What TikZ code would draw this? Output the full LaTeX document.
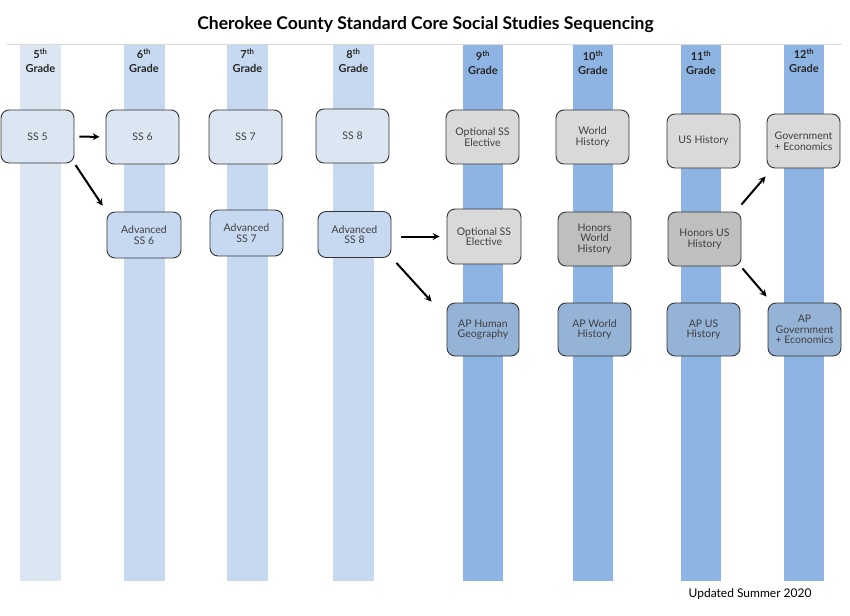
\documentclass[tikz,border=0pt]{standalone}
\usepackage{fontspec}
\setmainfont{Lato}
\usepackage{tikz}
\usetikzlibrary{shapes.geometric, arrows}
\definecolor{barpale}{HTML}{DCE6F2}
\definecolor{barmid}{HTML}{C6D9F1}
\definecolor{bardark}{HTML}{8EB4E3}
\definecolor{boxgray}{HTML}{D9D9D9}
\definecolor{boxhon}{HTML}{BFBFBF}
\definecolor{boxap}{HTML}{95B3D7}
\definecolor{txt}{HTML}{404040}
\tikzstyle{course} = [rectangle, rounded corners=8pt, minimum width=73pt, minimum height=54pt, text centered, align=center, inner sep=1pt, draw=black!80, line width=0.9pt, text=txt, font=\fontsize{10.5}{10.5}\selectfont]
\tikzstyle{core} = [course, fill=barpale]
\tikzstyle{adv} = [course, fill=barmid, minimum height=46pt]
\tikzstyle{elect} = [course, fill=boxgray]
\tikzstyle{honors} = [course, fill=boxhon]
\tikzstyle{ap} = [course, fill=boxap, minimum height=53pt]
\tikzstyle{grade} = [align=center, text=black!85, font=\bfseries\fontsize{11}{14}\selectfont]
\tikzstyle{arrow} = [line width=2pt, ->, >=stealth]

\begin{document}
\begin{tikzpicture}[x=1pt, y=-1pt]
\useasboundingbox (0,0) rectangle (850,615);
% grade bars
\fill[barpale] (20,44) rectangle (61,581);
\foreach \x in {124,227,333} \fill[barmid] (\x,44) rectangle (\x+41,581);
\foreach \x in {463,573,681,784} \fill[bardark] (\x,44) rectangle (\x+40,581);
\draw[boxgray, line width=0.8pt] (7,44) -- (842,44);

\node (title) at (425.5,25) {\bfseries\fontsize{17.5}{20}\selectfont Cherokee County Standard Core Social Studies Sequencing};

\node (g5) [grade] at (40.5,61) {5\textsuperscript{th}\\Grade};
\node (g6) [grade] at (144,61) {6\textsuperscript{th}\\Grade};
\node (g7) [grade] at (247.5,61) {7\textsuperscript{th}\\Grade};
\node (g8) [grade] at (353.5,61) {8\textsuperscript{th}\\Grade};
\node (g9) [grade] at (483,63) {9\textsuperscript{th}\\Grade};
\node (g10) [grade] at (593,63) {10\textsuperscript{th}\\Grade};
\node (g11) [grade] at (701,63) {11\textsuperscript{th}\\Grade};
\node (g12) [grade] at (804,61) {12\textsuperscript{th}\\Grade};

\node (ss5) [core, minimum height=53pt] at (37.5,136.5) {SS 5};
\node (ss6) [core] at (142.5,137) {SS 6};
\node (ss7) [core] at (245.5,137) {SS 7};
\node (ss8) [core] at (352.5,136) {SS 8};
\node (adv6) [adv, minimum width=74pt] at (144,235) {Advanced\\SS 6};
\node (adv7) [adv] at (246.5,233) {Advanced\\SS 7};
\node (adv8) [adv] at (354.5,234.5) {Advanced\\SS 8};

\node (opt9) [elect] at (482.5,137) {Optional SS\\Elective};
\node (wh10) [elect] at (592.5,137) {World\\History};
\node (us11) [elect] at (703.5,141) {US History};
\node (gov12) [elect] at (803.5,141) {Government\\+ Economics};
\node (opt9b) [elect, minimum width=74pt, minimum height=55pt] at (484,236.5) {Optional SS\\Elective};
\node (hwh10) [honors] at (594.5,239) {Honors\\World\\History};
\node (hus11) [honors] at (704.5,239) {Honors US\\History};
\node (ap9) [ap, minimum width=72pt] at (483,329.5) {AP Human\\Geography};
\node (apwh10) [ap] at (594.5,329.5) {AP World\\History};
\node (apus11) [ap] at (703.5,329.5) {AP US\\History};
\node (apgov12) [ap] at (804.5,329.5) {AP\\Government\\+ Economics};

\node (upd) [anchor=east, font=\fontsize{12}{14}\selectfont] at (815,594) {Updated Summer 2020};

\draw [arrow, shorten <=5pt, shorten >=6pt] (ss5) -- (ss6);
\draw [arrow, shorten <=2pt, shorten >=7pt] (ss5.south east) -- (adv6.north west);
\draw [arrow, shorten <=10pt, shorten >=7pt] ([yshift=-2pt]adv8.east) -- (opt9b.west);
\draw [arrow] ([xshift=5pt,yshift=-5pt]adv8.south east) -- ([xshift=-15pt,yshift=1pt]ap9.north west);
\draw [arrow] ([yshift=7pt]hus11.north east) -- ([xshift=-1pt,yshift=-8pt]gov12.south west);
\draw [arrow] ([xshift=1pt,yshift=-2pt]hus11.south east) -- ([xshift=-1pt,yshift=6pt]apgov12.north west);
\end{tikzpicture}
\end{document}
